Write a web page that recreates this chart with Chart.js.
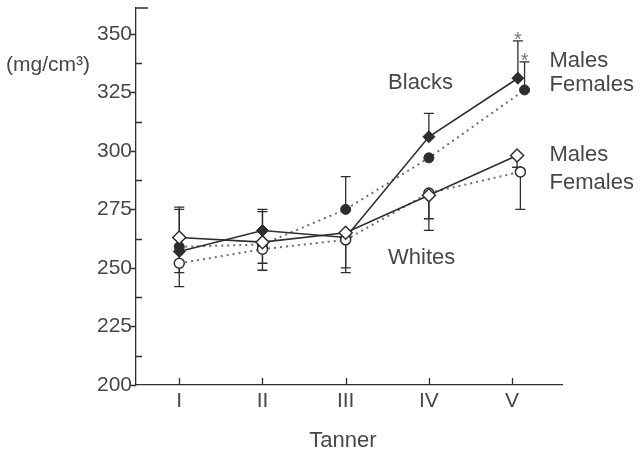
<!DOCTYPE html>
<html>
<head>
<meta charset="utf-8">
<script src="https://cdn.jsdelivr.net/npm/chart.js@4.4.1/dist/chart.umd.min.js"></script>
<style>
  html, body { margin: 0; padding: 0; background: #fff; }
  canvas { display: block; }
</style>
</head>
<body>
<canvas id="bmdChart" width="641" height="455"></canvas>
<script>
// Tanner stages and their labels
const stages = [1, 2, 3, 4, 5];
const stageLabels = ["I", "II", "III", "IV", "V"];

// x positions per series (stage V points are nudged apart)
const blackMaleX   = [1, 2, 3, 4, 5.07];
const blackFemaleX = [1, 2, 3, 4, 5.15];
const whiteMaleX   = [1, 2, 3, 4, 5.06];
const whiteFemaleX = [1, 2, 3, 4, 5.10];

// bone density (mg/cm3)
const blackMales   = [257, 266, 263, 306, 331];
const blackFemales = [259, 260, 275, 297, 326];
const whiteMales   = [263, 261, 265, 281, 298];
const whiteFemales = [252, 258, 262, 282, 291];

// end of the error bar for each point (null = no bar)
const blackMaleErr   = [275, 274, null, 316, 347];
const blackFemaleErr = [276, 275, 289, null, 338];
const whiteMaleErr   = [248, 252, 250, 271, 293];
const whiteFemaleErr = [242, 249, 248, 266, 275];

// significance marks
const blackMaleStar   = [false, false, false, false, true];
const blackFemaleStar = [false, false, false, false, true];

// y axis
const yMin = 200, yMax = 361, yStep = 12.5, yLabelStep = 25;

const ink = "#2e2e2e";
const textColor = "#474747";
const dotColor = "#6e6e6e";
const fontFamily = "'Liberation Sans', Arial, sans-serif";

function points(xs, ys, errs, stars) {
    return xs.map((x, i) => ({ x: x, y: ys[i], err: errs[i], star: stars ? stars[i] : false }));
}

// Error bars, axis tick marks and text labels
const decorations = {
    id: "decorations",
    beforeDatasetsDraw(chart) {
        const { ctx, scales: { x, y } } = chart;
        ctx.save();
        ctx.strokeStyle = ink;
        ctx.lineWidth = 1.3;
        chart.data.datasets.forEach(ds => {
            ds.data.forEach(p => {
                if (p.err == null) return;
                const px = x.getPixelForValue(p.x);
                const py0 = y.getPixelForValue(p.y);
                const py1 = y.getPixelForValue(p.err);
                ctx.beginPath();
                ctx.moveTo(px, py0);
                ctx.lineTo(px, py1);
                ctx.moveTo(px - 5, py1);
                ctx.lineTo(px + 5, py1);
                ctx.stroke();
                if (p.star) {
                    ctx.fillStyle = "#777";
                    ctx.font = "20px " + fontFamily;
                    ctx.textAlign = "center";
                    ctx.textBaseline = "alphabetic";
                    ctx.fillText("*", px, py1 + 5);
                }
            });
        });
        ctx.restore();
    },
    afterDraw(chart) {
        const { ctx, chartArea, scales: { x, y } } = chart;
        const left = chartArea.left, bottom = chartArea.bottom;
        ctx.save();
        ctx.strokeStyle = ink;
        ctx.lineWidth = 1.3;
        ctx.beginPath();
        // y ticks: labelled ones point out, the halves point in
        for (let v = yMin; v <= 350; v += yStep) {
            const py = Math.round(y.getPixelForValue(v)) + 0.5;
            if (v % yLabelStep === 0) {
                ctx.moveTo(left - 5, py);
                ctx.lineTo(left, py);
            } else {
                ctx.moveTo(left, py);
                ctx.lineTo(left + 6, py);
            }
        }
        // cap at the top of the y axis
        const top = y.getPixelForValue(yMax);
        ctx.moveTo(left, top);
        ctx.lineTo(left + 12, top);
        // x ticks point up into the plot
        stages.forEach(s => {
            const px = Math.round(x.getPixelForValue(s)) + 0.5;
            ctx.moveTo(px, bottom);
            ctx.lineTo(px, bottom - 7);
        });
        ctx.stroke();

        ctx.fillStyle = textColor;
        ctx.textBaseline = "alphabetic";
        ctx.textAlign = "left";
        ctx.font = "22px " + fontFamily;
        const notes = [
            ["Blacks", 3.51, 326.6],
            ["Whites", 3.51, 251.8],
            ["Males", 5.45, 336.0],
            ["Females", 5.45, 325.4],
            ["Males", 5.45, 295.6],
            ["Females", 5.45, 283.7]
        ];
        notes.forEach(n => ctx.fillText(n[0], x.getPixelForValue(n[1]), y.getPixelForValue(n[2])));

        // unit label
        ctx.font = "21px " + fontFamily;
        ctx.fillText("(mg/cm³)", 6, 71);

        // axis title
        ctx.textAlign = "center";
        ctx.font = "22px " + fontFamily;
        ctx.fillText("Tanner", 343, 447);
        ctx.restore();
    }
};

const ctx = document.getElementById("bmdChart").getContext("2d");

new Chart(ctx, {
    type: "line",
    data: {
        datasets: [
            {
                label: "Whites, males",
                data: points(whiteMaleX, whiteMales, whiteMaleErr),
                borderColor: ink, borderWidth: 1.6,
                pointStyle: "rectRot", pointRadius: 6.5,
                pointBackgroundColor: "#fff", pointBorderColor: ink, pointBorderWidth: 1.5
            },
            {
                label: "Whites, females",
                data: points(whiteFemaleX, whiteFemales, whiteFemaleErr),
                borderColor: dotColor, borderWidth: 2, borderDash: [2, 4],
                pointStyle: "circle", pointRadius: 5,
                pointBackgroundColor: "#fff", pointBorderColor: ink, pointBorderWidth: 1.5
            },
            {
                label: "Blacks, males",
                data: points(blackMaleX, blackMales, blackMaleErr, blackMaleStar),
                borderColor: ink, borderWidth: 1.6,
                pointStyle: "rectRot", pointRadius: 6,
                pointBackgroundColor: ink, pointBorderColor: ink, pointBorderWidth: 1
            },
            {
                label: "Blacks, females",
                data: points(blackFemaleX, blackFemales, blackFemaleErr, blackFemaleStar),
                borderColor: dotColor, borderWidth: 2, borderDash: [2, 4],
                pointStyle: "circle", pointRadius: 5,
                pointBackgroundColor: ink, pointBorderColor: ink, pointBorderWidth: 1
            }
        ]
    },
    options: {
        responsive: false,
        animation: false,
        layout: { padding: { left: 0, top: 7, right: 79, bottom: 0 } },
        plugins: {
            legend: { display: false },
            tooltip: { enabled: false }
        },
        scales: {
            x: {
                type: "linear",
                min: 0.48,
                max: 5.6,
                afterFit: s => { s.height = 70; s.paddingLeft = 0; s.paddingRight = 0; },
                afterBuildTicks: s => { s.ticks = stages.map(v => ({ value: v })); },
                grid: { display: false, tickLength: 0 },
                border: { color: ink, width: 1.3 },
                ticks: {
                    callback: v => stageLabels[v - 1],
                    padding: 4,
                    maxRotation: 0,
                    autoSkip: false,
                    color: textColor,
                    font: { family: fontFamily, size: 21 }
                }
            },
            y: {
                min: yMin,
                max: yMax,
                afterFit: s => { s.width = 136; s.paddingTop = 0; s.paddingBottom = 0; },
                grid: { display: false, tickLength: 0 },
                border: { color: ink, width: 1.3 },
                ticks: {
                    stepSize: yStep,
                    callback: v => (v % yLabelStep === 0 && v <= 350 ? String(v) : ""),
                    padding: 4,
                    color: textColor,
                    font: { family: fontFamily, size: 21 }
                }
            }
        }
    },
    plugins: [decorations]
});
</script>
</body>
</html>
